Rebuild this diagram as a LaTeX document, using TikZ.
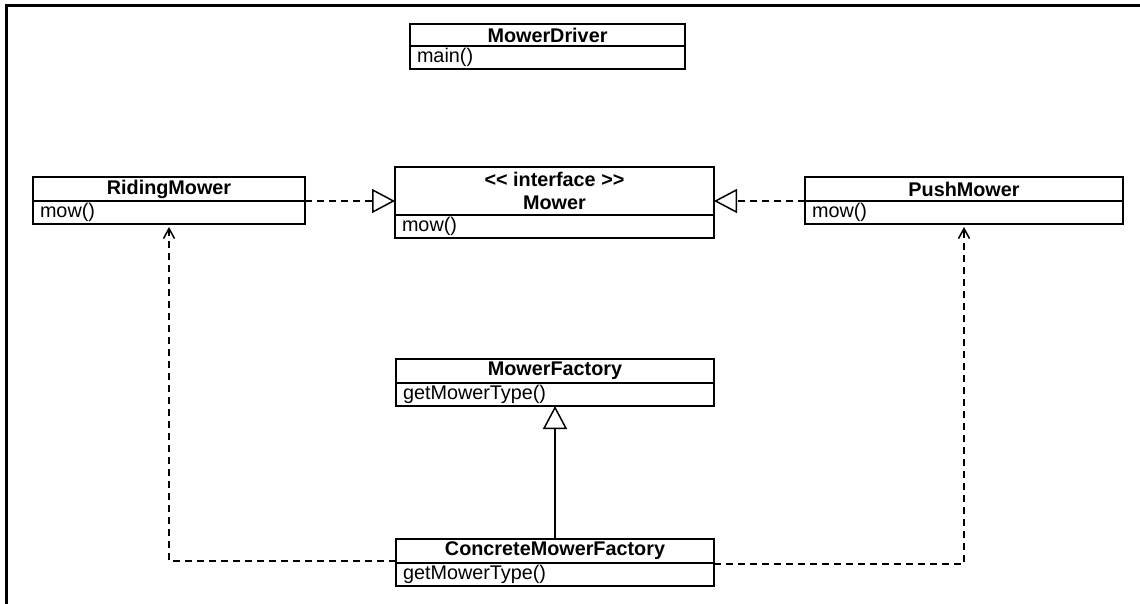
\documentclass[tikz,border=0pt]{standalone}
\usepackage{fontspec}
\setmainfont{Liberation Sans}
\usetikzlibrary{arrows.meta}
\begin{document}
\begin{tikzpicture}[x=1pt,y=-1pt,
  box/.style={draw, line width=1.6pt, inner xsep=7pt, inner ysep=0pt, outer sep=0pt, anchor=north west, font=\fontsize{19.8}{22.5}\selectfont},
  hdr/.style={box, align=center, font=\fontsize{19.8}{22.5}\selectfont\bfseries},
  mth/.style={box, align=left},
  real/.style={line width=1.5pt, dash pattern=on 7pt off 5pt, -{Triangle[open, length=23pt, width=24pt, fill=white]}},
  inh/.style={line width=1.5pt, -{Triangle[open, length=23pt, width=24pt, fill=white]}},
  dep/.style={line width=1.5pt, dash pattern=on 7pt off 5pt, -{Straight Barb[length=10pt, width=11pt]}, shorten >=3pt},
  frame/.style={line width=3pt},
]
\useasboundingbox (0,0) rectangle (1140,604);
\draw[frame] (6,604) -- (6,6) -- (1140,6);

% MowerDriver
\node[hdr, minimum width=275pt, minimum height=22pt] (mdh) at (410,24) {MowerDriver};
\node[mth, text width=261pt, minimum height=23pt] (mdm) at (mdh.south west) {main()};

% RidingMower
\node[hdr, minimum width=272pt, minimum height=24pt] (rmh) at (33,177) {RidingMower};
\node[mth, text width=258pt, minimum height=23pt] (rmm) at (rmh.south west) {mow()};

% Mower
\node[hdr, minimum width=319pt, minimum height=48pt] (mowh) at (395,167) {<\kern0pt< interface >\kern0pt>\\Mower};
\node[mth, text width=305pt, minimum height=23pt] (mowm) at (mowh.south west) {mow()};

% PushMower
\node[hdr, minimum width=318pt, minimum height=24pt] (pmh) at (805,177) {PushMower};
\node[mth, text width=304pt, minimum height=23pt] (pmm) at (pmh.south west) {mow()};

% MowerFactory
\node[hdr, minimum width=318pt, minimum height=24pt] (mfh) at (396,359) {MowerFactory};
\node[mth, text width=304pt, minimum height=23pt] (mfm) at (mfh.south west) {getMowerType()};

% ConcreteMowerFactory
\node[hdr, minimum width=318pt, minimum height=24pt] (cmfh) at (396,539) {ConcreteMowerFactory};
\node[mth, text width=304pt, minimum height=23pt] (cmfm) at (cmfh.south west) {getMowerType()};

% connectors
\draw[real] (rmh.south east) -- (rmh.south east -| mowh.west);
\draw[real] (pmh.south west) -- (pmh.south west -| mowh.east);
\draw[inh] (cmfh.north) -- (mfm.south);
\draw[dep] ([yshift=2pt]cmfh.south west) -| (rmm.south);
\draw[dep] ([yshift=-1pt]cmfm.north east) -| (pmm.south);
\end{tikzpicture}
\end{document}
